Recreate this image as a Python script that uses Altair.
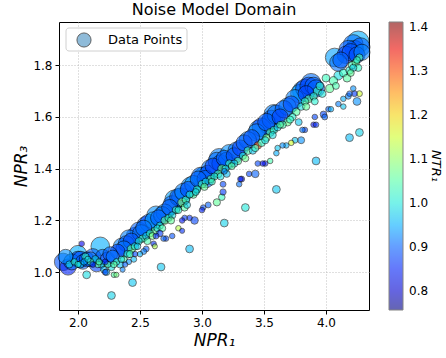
import altair as alt
import pandas as pd

# ---- upper band (large, low NTR) ----
top_npr1 = [1.88, 1.92, 1.90, 2.00, 2.00, 2.04, 2.07, 2.12, 2.15, 2.18, 2.20, 2.24, 2.28, 2.32, 2.35, 2.39,
            2.43, 2.46, 2.49, 2.53, 2.57, 2.61, 2.65, 2.70, 2.74, 2.78, 2.81, 2.85, 2.89, 2.93, 2.97, 3.01,
            3.05, 3.09, 3.12, 3.15, 3.18, 3.22, 3.26, 3.31, 3.34, 3.40, 3.44, 3.48, 3.52, 3.56, 3.60, 3.63,
            3.69, 3.72, 3.79, 3.83, 3.86, 3.90, 3.84, 4.07, 4.12, 4.16, 4.20, 4.23, 4.26, 4.28, 4.25,
            1.95, 2.02, 2.10, 2.26, 2.37, 2.41, 2.51, 2.55, 2.63, 2.68, 2.76, 2.83, 2.91, 2.99, 3.03, 3.07,
            3.14, 3.20, 3.28, 3.37, 3.46, 3.54, 3.58, 3.66, 3.75, 3.81, 3.88, 3.92, 4.10, 4.18, 4.22, 4.29]
top_npr3 = [1.04, 1.02, 1.06, 1.07, 1.05, 1.04, 1.05, 1.06, 1.03, 1.10, 1.06, 1.05, 1.06, 1.08, 1.10, 1.11,
            1.12, 1.14, 1.16, 1.17, 1.19, 1.20, 1.21, 1.23, 1.25, 1.28, 1.29, 1.31, 1.32, 1.34, 1.36, 1.37,
            1.38, 1.41, 1.43, 1.42, 1.44, 1.46, 1.45, 1.48, 1.50, 1.52, 1.54, 1.56, 1.58, 1.59, 1.61, 1.60,
            1.64, 1.65, 1.69, 1.71, 1.72, 1.72, 1.69, 1.83, 1.82, 1.84, 1.85, 1.86, 1.89, 1.87, 1.84,
            1.04, 1.05, 1.05, 1.07, 1.09, 1.13, 1.15, 1.18, 1.22, 1.22, 1.26, 1.29, 1.33, 1.37, 1.36, 1.40,
            1.44, 1.43, 1.47, 1.51, 1.55, 1.57, 1.61, 1.63, 1.67, 1.70, 1.73, 1.71, 1.81, 1.86, 1.88, 1.85]
top_ntr1 = [0.89, 0.85, 0.93, 0.95, 0.88, 0.90, 0.89, 0.90, 0.88, 0.95, 0.90, 0.89, 0.91, 0.88, 0.92, 0.90,
            0.89, 0.88, 0.90, 0.91, 0.89, 0.94, 0.90, 0.92, 0.90, 0.94, 0.90, 0.92, 0.89, 0.93, 0.90, 0.94,
            0.89, 0.88, 0.91, 0.89, 0.90, 0.93, 0.89, 0.88, 0.90, 0.89, 0.92, 0.88, 0.90, 0.89, 0.91, 0.88,
            0.94, 0.89, 0.94, 0.89, 0.88, 0.90, 0.88, 0.94, 0.90, 0.88, 0.89, 0.88, 0.95, 0.90, 0.89,
            0.91, 0.90, 0.91, 0.90, 0.91, 0.92, 0.91, 0.90, 0.93, 0.91, 0.90, 0.91, 0.93, 0.91, 0.90, 0.91,
            0.92, 0.90, 0.91, 0.92, 0.93, 0.91, 0.92, 0.90, 0.92, 0.93, 0.91, 0.90, 0.91, 0.90, 0.91, 0.92]
top_w = [7, 6, 5, 7, 6, 5, 5, 6, 5, 8, 5, 5, 4, 5, 6, 6,
         6, 7, 7, 6, 7, 7, 6, 7, 6, 9, 7, 7, 6, 7, 6, 8,
         7, 6, 7, 7, 6, 7, 6, 6, 6, 6, 7, 8, 7, 8, 8, 6,
         7, 6, 8, 8, 7, 7, 6, 8, 6, 7, 7, 8, 11, 8, 6,
         6, 6, 5, 5, 6, 7, 7, 8, 8, 7, 8, 8, 9, 8, 7, 8,
         9, 7, 7, 7, 9, 9, 9, 7, 8, 9, 9, 7, 7, 8, 9, 6]

# ---- middle band (medium, NTR near 1) ----
mid_npr1 = [1.93, 1.97, 2.02, 2.06, 2.10, 2.14, 2.16, 2.19, 2.21, 2.24, 2.27, 2.23, 2.31, 2.34, 2.37, 2.40,
            2.43, 2.46, 2.49, 2.52, 2.55, 2.58, 2.62, 2.66, 2.70, 2.73, 2.76, 2.79, 2.84, 2.87, 2.90, 2.93,
            2.96, 3.00, 3.03, 3.07, 3.10, 3.13, 3.16, 3.19, 3.22, 3.26, 3.29, 3.33, 3.37, 3.41, 3.45, 3.48,
            3.51, 3.55, 3.58, 3.61, 3.65, 3.69, 3.73, 3.76, 3.80, 3.83, 3.86, 3.90, 3.93, 3.97, 4.00, 4.03,
            4.06, 4.10, 4.14, 4.17, 4.19, 4.21, 4.24, 4.27, 4.26, 4.22, 3.95, 3.78, 3.52, 3.20, 2.88, 2.60,
            2.05, 2.12, 2.22, 2.63,
            2.00, 2.08, 2.17, 2.29, 2.35, 2.42, 2.48, 2.56, 2.64, 2.68, 2.75, 2.81, 2.86, 2.95, 3.02, 3.08,
            3.15, 3.24, 3.35, 3.43, 3.57, 3.63, 3.71, 3.84, 3.91, 4.08, 4.20, 4.25]
mid_npr3 = [1.03, 1.04, 1.03, 1.06, 1.04, 1.05, 1.03, 1.03, 1.01, 1.03, 1.02, 1.00, 1.04, 1.03, 1.05, 1.07,
            1.09, 1.10, 1.12, 1.13, 1.14, 1.15, 1.16, 1.18, 1.20, 1.21, 1.22, 1.24, 1.27, 1.28, 1.30, 1.30,
            1.32, 1.34, 1.35, 1.36, 1.37, 1.38, 1.40, 1.40, 1.42, 1.42, 1.43, 1.45, 1.47, 1.47, 1.49, 1.50,
            1.51, 1.54, 1.55, 1.56, 1.57, 1.58, 1.60, 1.62, 1.64, 1.66, 1.67, 1.68, 1.70, 1.69, 1.75, 1.71,
            1.74, 1.76, 1.77, 1.75, 1.78, 1.80, 1.81, 1.83, 1.79, 1.79, 1.72, 1.58, 1.52, 1.38, 1.26, 1.14,
            1.04, 1.03, 1.04, 1.14,
            1.03, 1.05, 1.04, 1.03, 1.05, 1.07, 1.10, 1.12, 1.17, 1.17, 1.20, 1.24, 1.25, 1.31, 1.33, 1.35,
            1.37, 1.41, 1.44, 1.48, 1.53, 1.57, 1.59, 1.64, 1.66, 1.72, 1.77, 1.82]
mid_ntr1 = [0.99, 1.02, 0.97, 1.03, 1.05, 0.98, 1.06, 1.00, 0.96, 1.04, 0.99, 0.95, 1.02, 0.97, 1.04, 1.00,
            1.06, 1.02, 1.00, 1.05, 0.98, 1.03, 1.06, 1.01, 1.07, 1.02, 0.99, 1.04, 1.10, 1.03, 1.00, 1.05,
            1.02, 1.04, 0.99, 1.06, 1.01, 1.04, 1.07, 1.00, 1.03, 0.98, 1.05, 1.01, 1.04, 0.97, 1.30, 1.02,
            0.99, 1.05, 1.02, 0.98, 1.04, 1.07, 1.01, 1.05, 0.99, 1.03, 1.06, 1.02, 1.04, 1.00, 1.03, 1.06,
            1.04, 0.99, 1.02, 1.05, 1.01, 1.03, 1.06, 1.05, 1.02, 0.98, 1.02, 0.97, 1.07, 0.96, 0.98, 1.08,
            0.95, 0.85, 0.84, 0.86,
            1.01, 0.99, 1.03, 1.05, 0.99, 1.03, 0.97, 1.04, 0.99, 1.04, 1.06, 1.01, 1.05, 0.99, 1.06, 1.03,
            0.99, 1.05, 1.07, 1.02, 0.99, 1.05, 1.02, 1.06, 1.01, 1.04, 1.06, 1.02]
mid_w = [1.2, 1.0, 1.2, 1.3, 1.1, 1.3, 1.0, 1.2, 1.1, 1.0, 1.2, 1.0, 1.0, 1.2, 1.1, 1.4,
         1.6, 1.3, 1.2, 1.3, 1.2, 1.2, 1.4, 1.2, 1.4, 1.2, 1.2, 1.3, 1.8, 1.3, 1.2, 1.3,
         1.3, 1.4, 1.2, 1.3, 1.2, 1.4, 1.5, 1.2, 1.3, 1.2, 1.3, 1.2, 1.4, 1.2, 1.3, 1.3,
         1.2, 1.4, 1.3, 1.2, 1.3, 1.4, 1.2, 1.4, 1.3, 1.3, 1.4, 1.3, 1.5, 1.3, 1.4, 1.5,
         1.6, 1.8, 1.4, 1.4, 1.3, 1.3, 1.3, 1.2, 1.2, 1.2, 1.4, 1.1, 1.3, 1.1, 1.1, 1.1,
         1.0, 0.8, 0.8, 0.8,
         0.9, 0.9, 0.9, 1.0, 1.0, 1.2, 1.0, 1.1, 1.1, 1.1, 1.2, 1.1, 1.2, 1.1, 1.2, 1.1,
         1.1, 1.1, 1.1, 1.2, 1.2, 1.1, 1.2, 1.2, 1.1, 1.1, 1.1, 1.1]

# ---- lower sparse band (small) ----
low_npr1 = [2.03, 2.07, 2.27, 2.44, 2.67, 2.90, 3.18, 3.35, 3.60, 3.92, 4.19, 4.27, 4.25, 4.27, 4.22, 4.23,
            4.19, 4.18, 4.14, 4.10, 4.14, 4.02, 4.04, 3.98, 3.99, 3.91, 3.90, 3.92, 3.83, 3.81, 3.80, 3.75,
            3.72, 3.68, 3.65, 3.61, 3.60, 3.55, 3.51, 3.49, 3.45, 3.43, 3.38, 3.32, 3.30, 3.31, 3.18, 3.17,
            3.17, 3.16, 3.12, 3.05, 3.01, 3.00, 2.94, 2.90, 2.86, 2.84, 2.81, 2.84, 2.76, 2.71, 2.69, 2.66,
            2.61, 2.62, 2.55, 2.53, 2.50, 2.46, 2.45, 2.41, 2.38, 2.36, 2.31, 2.29, 2.22]
low_npr3 = [1.11, 0.99, 0.91, 0.96, 1.02, 1.09, 1.19, 1.25, 1.32, 1.43, 1.52, 1.54, 1.66, 1.69, 1.71, 1.69,
            1.69, 1.68, 1.67, 1.65, 1.64, 1.63, 1.63, 1.61, 1.60, 1.60, 1.57, 1.57, 1.55, 1.55, 1.51, 1.51,
            1.50, 1.49, 1.49, 1.48, 1.46, 1.43, 1.42, 1.42, 1.42, 1.38, 1.38, 1.36, 1.34, 1.36, 1.39, 1.34,
            1.31, 1.29, 1.27, 1.26, 1.25, 1.24, 1.20, 1.21, 1.21, 1.20, 1.17, 1.16, 1.14, 1.13, 1.13, 1.15,
            1.11, 1.10, 1.09, 1.08, 1.07, 1.07, 1.05, 1.04, 1.03, 1.01, 0.99, 0.99, 1.00]
low_ntr1 = [0.82, 0.99, 0.98, 0.97, 0.97, 0.96, 0.98, 1.00, 0.97, 0.96, 0.96, 0.98, 0.93, 1.15, 0.93, 0.87,
            0.90, 0.92, 0.95, 0.92, 0.97, 0.90, 0.95, 0.88, 0.90, 0.88, 0.83, 0.86, 0.88, 0.91, 0.93, 0.97,
            1.15, 0.95, 0.93, 0.97, 0.95, 1.04, 0.85, 0.83, 0.88, 0.90, 0.88, 0.83, 0.91, 0.85, 0.92, 0.88,
            0.87, 1.03, 1.06, 0.90, 0.89, 0.85, 0.88, 0.86, 0.87, 0.84, 1.13, 0.86, 0.89, 0.88, 0.90, 0.87,
            0.86, 1.13, 0.90, 0.92, 0.95, 0.88, 0.96, 0.93, 0.90, 0.92, 1.08, 1.05, 0.88]
low_w = [0.7, 1.4, 1.4, 1.4, 1.4, 1.4, 1.4, 1.4, 1.4, 1.4, 1.4, 1.4, 1.4, 0.8, 0.7, 0.8,
         0.7, 0.8, 0.7, 0.7, 0.7, 0.7, 0.7, 1.0, 0.8, 0.7, 0.7, 0.7, 0.7, 0.7, 1.1, 0.8,
         0.7, 0.7, 0.7, 0.7, 0.7, 0.7, 0.7, 0.7, 0.7, 1.3, 0.7, 0.8, 0.7, 0.7, 0.8, 0.8,
         0.9, 1.0, 1.2, 0.8, 0.7, 0.7, 1.3, 0.7, 0.7, 0.7, 0.7, 0.6, 0.7, 0.7, 0.7, 1.0,
         0.7, 0.6, 0.8, 0.8, 0.7, 0.7, 0.8, 0.7, 0.7, 0.6, 0.6, 0.7, 0.8]

x_ticks = [2.0, 2.5, 3.0, 3.5, 4.0]
y_ticks = [1.0, 1.2, 1.4, 1.6, 1.8]
c_ticks = [0.8, 0.9, 1.0, 1.1, 1.2, 1.3, 1.4]

# jet colormap stops
jet_colors = ["#000080", "#0000f3", "#004cff", "#00b3ff", "#29ffce", "#7bff7b",
              "#ceff29", "#ffc600", "#ff6800", "#f30900", "#800000"]
c_lo, c_hi = 0.756, 1.411
jet_domain = [round(c_lo + k * (c_hi - c_lo) / 10, 4) for k in range(11)]

df = pd.DataFrame({
    "npr1": top_npr1 + mid_npr1 + low_npr1,
    "npr3": top_npr3 + mid_npr3 + low_npr3,
    "ntr1": top_ntr1 + mid_ntr1 + low_ntr1,
    "w": top_w + mid_w + low_w,
})

FONT = "DejaVu Sans"

pts = alt.Chart(df).mark_circle(opacity=0.6, stroke="black", strokeWidth=0.9).encode(
    x=alt.X("npr1:Q", scale=alt.Scale(domain=[1.847, 4.347], nice=False, zero=False),
            axis=alt.Axis(values=x_ticks, format=".1f", title="NPR₁")),
    y=alt.Y("npr3:Q", scale=alt.Scale(domain=[0.854, 1.967], nice=False, zero=False),
            axis=alt.Axis(values=y_ticks, format=".1f", title="NPR₃")),
    color=alt.Color("ntr1:Q",
                    scale=alt.Scale(domain=jet_domain, range=jet_colors, interpolate="rgb", clamp=True),
                    legend=alt.Legend(title="NTR₁", values=c_ticks, format=".1f", orient="right",
                                      offset=20, gradientLength=288, gradientThickness=14,
                                      gradientOpacity=0.6, gradientStrokeColor="#333333",
                                      gradientStrokeWidth=1, labelFontSize=12, labelFont=FONT,
                                      labelOffset=6, labelOverlap=False, titleOrient="right",
                                      titleFontSize=13, titleFontStyle="italic", titleFontWeight="normal",
                                      titleFont=FONT, titleAnchor="middle", titlePadding=1)),
    size=alt.Size("w:Q", scale=alt.Scale(domain=[0, 12], range=[0, 520]), legend=None),
    order=alt.Order("w:Q", sort="descending"),
)

leg_df = pd.DataFrame({"label": ["Data Points"]})
leg_box = alt.Chart(leg_df).mark_rect(fill="white", stroke="#cccccc", strokeWidth=1,
                                      cornerRadius=3, opacity=0.9).encode(
    x=alt.value(7), x2=alt.value(128), y=alt.value(6), y2=alt.value(29))
leg_sym = alt.Chart(leg_df).mark_circle(color="#8fbbd9", opacity=1, stroke="#555555",
                                        strokeWidth=0.9, size=200).encode(
    x=alt.value(25), y=alt.value(18))
leg_txt = alt.Chart(leg_df).mark_text(align="left", baseline="middle", fontSize=13, font=FONT,
                                      color="black").encode(
    x=alt.value(49), y=alt.value(18), text="label:N")

chart = alt.layer(pts, leg_box, leg_sym, leg_txt).properties(
    width=310, height=288,
    title=alt.TitleParams("Noise Model Domain", fontSize=16, fontWeight="normal", font=FONT,
                          anchor="middle", offset=4),
    autosize=alt.AutoSizeParams(type="none"),
    padding={"left": 59, "top": 22, "right": 77, "bottom": 48},
).configure_view(stroke="black", strokeWidth=1).configure_axis(
    domain=False, grid=True, gridColor="#b0b0b0", gridDash=[1, 2], gridWidth=0.8,
    tickColor="black", tickSize=4, labelFont=FONT, labelFontSize=12, labelColor="black",
    titleFont=FONT, titleFontSize=17, titleFontStyle="italic", titleFontWeight="normal",
    titleColor="black",
).configure_axisX(titlePadding=4, labelPadding=3).configure_axisY(titlePadding=2, labelPadding=3)

chart.save("out.html", embed_options={"renderer": "svg", "actions": False})
